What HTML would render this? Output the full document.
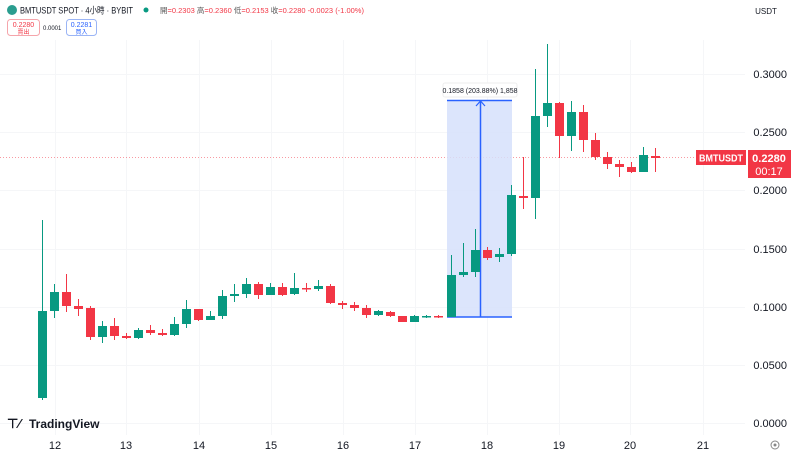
<!DOCTYPE html>
<html><head><meta charset="utf-8"><style>
body{margin:0;width:800px;height:455px;overflow:hidden;background:#fff;font-family:"Liberation Sans","Noto Sans CJK TC",sans-serif}
svg{position:absolute;left:0;top:0}
</style></head><body>
<svg id="s" width="800" height="455" xmlns="http://www.w3.org/2000/svg" font-family="Liberation Sans, Noto Sans CJK TC, sans-serif">
<g stroke="#f5f6f8" stroke-width="1">
<line x1="0" y1="74.5" x2="745" y2="74.5"/><line x1="0" y1="132.5" x2="745" y2="132.5"/><line x1="0" y1="190.5" x2="745" y2="190.5"/><line x1="0" y1="249.5" x2="745" y2="249.5"/><line x1="0" y1="307.5" x2="745" y2="307.5"/><line x1="0" y1="365.5" x2="745" y2="365.5"/><line x1="0" y1="423.5" x2="745" y2="423.5"/>
<line x1="55.5" y1="40" x2="55.5" y2="435"/><line x1="126.5" y1="40" x2="126.5" y2="435"/><line x1="199.5" y1="40" x2="199.5" y2="435"/><line x1="271.5" y1="40" x2="271.5" y2="435"/><line x1="343.5" y1="40" x2="343.5" y2="435"/><line x1="415.5" y1="40" x2="415.5" y2="435"/><line x1="487.5" y1="40" x2="487.5" y2="435"/><line x1="559.5" y1="40" x2="559.5" y2="435"/><line x1="630.5" y1="40" x2="630.5" y2="435"/><line x1="703.5" y1="40" x2="703.5" y2="435"/>
</g>
<line x1="0" y1="157.5" x2="745" y2="157.5" stroke="#f23645" stroke-opacity="0.5" stroke-dasharray="1,2"/>
<rect x="447" y="100" width="65" height="217" fill="#d6e0fb" opacity="0.85"/>
<line x1="447" y1="100.5" x2="512" y2="100.5" stroke="#2962ff" stroke-width="1.5"/>
<line x1="447" y1="317" x2="512" y2="317" stroke="#2962ff" stroke-width="1.5"/>
<line x1="480.5" y1="101" x2="480.5" y2="317" stroke="#2962ff" stroke-width="1.5"/>
<polyline points="476,106 480.5,101 485,106" fill="none" stroke="#2962ff" stroke-width="1.2"/>
<rect x="443" y="83" width="74" height="14" rx="2" fill="#fff" stroke="#eee"/>
<text x="480" y="93" font-size="7" fill="#131722" text-anchor="middle">0.1858 (203.88%) 1,858</text>
<g id="c"></g>
<rect x="696" y="150" width="50" height="15" fill="#f23645"/>
<text x="721" y="161.5" font-size="10" font-weight="bold" fill="#fff" text-anchor="middle" textLength="44" lengthAdjust="spacingAndGlyphs">BMTUSDT</text>
<rect x="748" y="150" width="43" height="28" fill="#f23645"/>
<text x="769" y="162" font-size="11" font-weight="bold" fill="#fff" text-anchor="middle">0.2280</text>
<text x="769" y="175" font-size="11" fill="#fff" text-anchor="middle">00:17</text>
<g font-size="11" fill="#131722" text-anchor="end">
<text x="787" y="78">0.3000</text><text x="787" y="136">0.2500</text><text x="787" y="194">0.2000</text><text x="787" y="253">0.1500</text><text x="787" y="311">0.1000</text><text x="787" y="369">0.0500</text><text x="787" y="427">0.0000</text>
</g>
<g font-size="11" fill="#131722" text-anchor="middle">
<text x="55" y="449">12</text><text x="126" y="449">13</text><text x="199" y="449">14</text><text x="271" y="449">15</text><text x="343" y="449">16</text><text x="415" y="449">17</text><text x="487" y="449">18</text><text x="559" y="449">19</text><text x="630" y="449">20</text><text x="703" y="449">21</text>
</g>
<circle cx="775" cy="445" r="4" fill="none" stroke="#888"/><circle cx="775" cy="445" r="1.5" fill="#888"/>
<text x="7" y="428" font-size="13" font-weight="bold" fill="#131722">⊤⁄</text>
<text x="29" y="428" font-size="12" font-weight="bold" fill="#131722">TradingView</text>
<text x="766" y="14" font-size="8" fill="#131722" text-anchor="middle">USDT</text>
<circle cx="12" cy="10" r="5" fill="#2a9d8f"/>
<text x="20" y="13.5" font-size="9" fill="#131722" textLength="113" lengthAdjust="spacingAndGlyphs">BMTUSDT SPOT · 4小時 · BYBIT</text>
<circle cx="146" cy="10" r="2.5" fill="#089981"/>
<text x="160" y="13" font-size="7.5" fill="#555">開<tspan fill="#f23645">=0.2303</tspan> 高<tspan fill="#f23645">=0.2360</tspan> 低<tspan fill="#f23645">=0.2153</tspan> 收<tspan fill="#f23645">=0.2280 -0.0023 (-1.00%)</tspan></text>
<rect x="7.5" y="19.5" width="32" height="16" rx="3" fill="#fff" stroke="#f5a5ab"/>
<text x="23.5" y="27" font-size="7" fill="#f23645" text-anchor="middle">0.2280</text>
<text x="23.5" y="34" font-size="6" fill="#f23645" text-anchor="middle">賣出</text>
<text x="43" y="30" font-size="6" fill="#131722">0.0001</text>
<rect x="66.5" y="19.5" width="30" height="16" rx="3" fill="#fff" stroke="#9bb5f5"/>
<text x="81.5" y="27" font-size="7" fill="#2962ff" text-anchor="middle">0.2281</text>
<text x="81.5" y="34" font-size="6" fill="#2962ff" text-anchor="middle">買入</text>
</svg>
<script>
var d=[[42,'g',311,398,220,400],[54,'g',292,311,284,318],[66,'r',292,306,274,312],[78,'r',306,309,299,316],[90,'r',308,337,306,340],[102,'g',326,337,321,343],[114,'r',326,336,318,340],[126,'r',336,338,333,339],[138,'g',330,338,328,339],[150,'r',330,333,325,335],[162,'r',333,335,329,336],[174,'g',324,335,317,336],[186,'g',309,324,300,328],[198,'r',309,320,309,321],[210,'g',316,320,311,320],[222,'g',296,316,290,319],[234,'g',294,296,284,302],[246,'g',284,294,278,298],[258,'r',284,295,282,299],[270,'g',287,295,283,295],[282,'r',287,295,283,296],[294,'g',288,294,273,295],[306,'r',288,289,283,292],[318,'g',286,289,280,291],[330,'r',286,303,284,304],[342,'r',303,305,301,309],[354,'r',305,308,302,311],[366,'r',308,315,305,318],[378,'g',311,315,310,316],[390,'r',312,316,311,317],[402,'r',316,322,316,322],[414,'g',316,322,315,322],[426,'g',316,317,315,318],[438,'r',316,317,315,318],[451,'g',275,317,255,317],[463,'g',272,275,243,277],[475,'g',250,272,229,277],[487,'r',250,258,247,260],[499,'g',254,257,248,262],[511,'g',195,254,185,256],[523,'r',196,198,157,209],[535,'g',116,198,69,219],[547,'g',103,116,44,127],[559,'r',103,136,102,158],[571,'g',112,136,101,151],[583,'r',112,140,105,152],[595,'r',140,157,133,160],[607,'r',157,164,152,169],[619,'r',164,167,160,177],[631,'r',167,172,162,173],[643,'g',155,172,147,172],[655,'r',156,158,148,172]];
var h='';d.forEach(function(c){var col=c[1]=='g'?'#089981':'#f23645';h+='<line x1="'+(c[0]+.5)+'" y1="'+c[4]+'" x2="'+(c[0]+.5)+'" y2="'+c[5]+'" stroke="'+col+'" stroke-width="1"/>';h+='<rect x="'+(c[0]-4)+'" y="'+c[2]+'" width="9" height="'+Math.max(1.5,c[3]-c[2])+'" fill="'+col+'"/>';});
document.getElementById('c').innerHTML=h;
</script>
</body></html>
